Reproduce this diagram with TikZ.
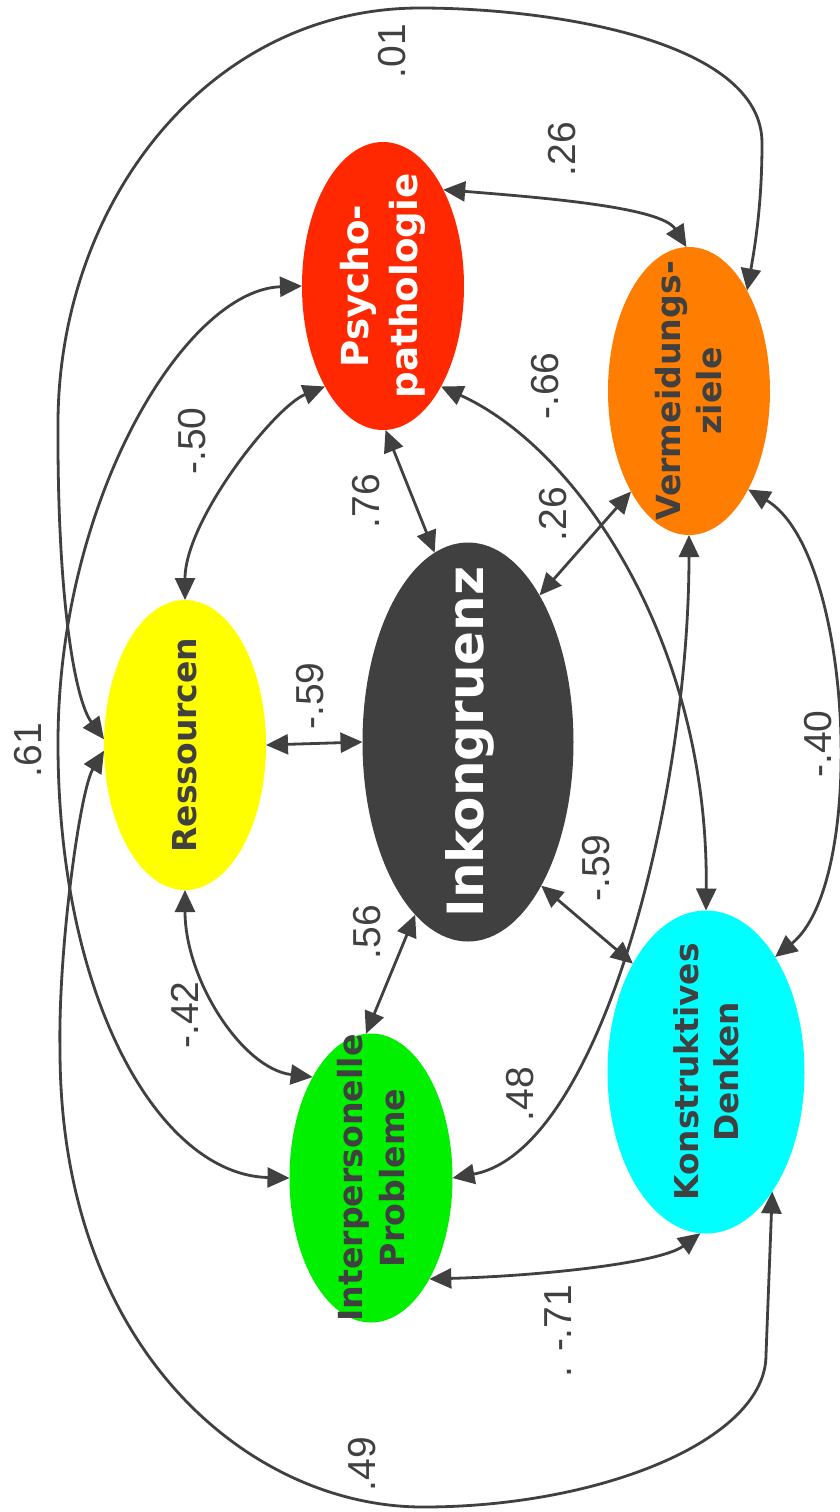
\documentclass[tikz,border=0pt]{standalone}
\usepackage{fontspec}
\setmainfont{Liberation Sans}
\newfontfamily\nodefont{DejaVu Sans}
\usetikzlibrary{arrows.meta,shapes.geometric}

\definecolor{linegray}{HTML}{404040}
\definecolor{psyred}{RGB}{255,40,0}
\definecolor{avoidorange}{RGB}{255,125,0}
\definecolor{resyellow}{RGB}{255,255,0}
\definecolor{intgreen}{RGB}{0,240,0}
\definecolor{konscyan}{RGB}{0,255,255}

\tikzset{
  blob/.style={ellipse, inner sep=0pt, outer sep=0pt, draw=none},
  conn/.style={draw=linegray, line width=1.4pt,
    {Triangle[length=11pt,width=10pt]}-{Triangle[length=11pt,width=10pt]}},
  wlabel/.style={rotate=90, text=linegray, inner sep=0pt,
    font=\fontsize{19.5}{22}\selectfont},
  ntext/.style={rotate=90, align=center, inner sep=0pt}
}

\begin{document}
\begin{tikzpicture}[x=0.5pt, y=-0.5pt]
  \fill[white] (0,0) rectangle (840,1512);
  \useasboundingbox (0,0) rectangle (840,1512);

  % construct ellipses
  \node[blob, fill=psyred, minimum width=81pt, minimum height=144pt] (P) at (383,286) {};
  \node[blob, fill=avoidorange, minimum width=81pt, minimum height=144pt] (V) at (689,391) {};
  \node[blob, fill=resyellow, minimum width=81pt, minimum height=145pt] (R) at (185,745) {};
  \node[blob, fill=linegray, minimum width=105.5pt, minimum height=199.5pt] (I) at (468,742) {};
  \node[blob, fill=intgreen, minimum width=81.5pt, minimum height=144.5pt] (G) at (371,1178) {};
  \node[blob, fill=konscyan, minimum width=98.5pt, minimum height=161.5pt] (K) at (706,1072) {};

  % correlations between neighbouring constructs
  \draw[conn] (P.58) .. controls +(100,8) and +(-25,-40) .. (V.91);
  \draw[conn] (P.240) .. controls +(-50,20) and +(0,-80) .. (R.90);
  \draw[conn] (P.271) -- (I.100);
  \draw[conn] (V.240) -- (I.64);
  \draw[conn] (R.0) -- (I.180);
  \draw[conn] (R.270) .. controls +(0,90) and +(-70,-8) .. (G.120);
  \draw[conn] (I.253) -- (G.92);
  \draw[conn] (I.297) -- (K.124);
  \draw[conn] (G.300) .. controls +(110,-3) and +(-40,30) .. (K.268);
  \draw[conn] (V.270) .. controls +(0,265) and +(147,-27) .. (G.0);
  \draw[conn] (P.300) .. controls +(137,62) and +(3,-268) .. (K.90);
  \draw[conn] (V.301) .. controls +(105,62) and +(93,-75) .. (K.59);

  % long correlations around the outside
  \draw[conn] (P.180) .. controls (185,290) and (58,500) .. (58,743)
              .. controls (58,1000) and (160,1175) .. (G.180);
  \draw[conn] (V.60) .. controls (758,230) and (762,190) .. (762,143)
              .. controls (762,40) and (550,8) .. (420,8)
              .. controls (210,8) and (60,200) .. (58,420)
              .. controls (57,600) and (75,700) .. (R.176);
  \draw[conn] (R.184) .. controls (80,790) and (58,950) .. (60,1050)
              .. controls (60,1350) and (250,1507) .. (423,1507)
              .. controls (600,1507) and (766,1440) .. (766,1355) -- (K.299);

  % construct names
  \node[ntext, text=white, font=\nodefont\bfseries\fontsize{18.6}{24.5}\selectfont] (tP) at (383,286) {Psycho-\\pathologie};
  \node[ntext, text=linegray, font=\nodefont\bfseries\fontsize{16.6}{20.5}\selectfont] (tV) at (689,391) {Vermeidungs-\\ziele};
  \node[ntext, text=linegray, font=\nodefont\bfseries\fontsize{16.5}{20}\selectfont] (tR) at (185,745) {Ressourcen};
  \node[ntext, text=white, font=\nodefont\bfseries\fontsize{25}{30}\selectfont] (tI) at (470,742) {Inkongruenz};
  \node[ntext, text=linegray, font=\nodefont\bfseries\fontsize{16.6}{21}\selectfont] (tG) at (371,1178) {Interpersonelle\\Probleme};
  \node[ntext, text=linegray, font=\nodefont\bfseries\fontsize{16.4}{20}\selectfont] (tK) at (706,1072) {Konstruktives\\Denken};

  % correlation coefficients
  \node[wlabel] (l01) at (392,51) {.01};
  \node[wlabel] (l26a) at (562,149) {.26};
  \node[wlabel] (l66) at (545,386) {-.66};
  \node[wlabel] (l50) at (192,441) {-.50};
  \node[wlabel] (l76) at (366,501) {.76};
  \node[wlabel] (l26b) at (553,514) {.26};
  \node[wlabel] (l59a) at (310,696) {-.59};
  \node[wlabel] (l61) at (28,750) {.61};
  \node[wlabel] (l40) at (818,744) {-.40};
  \node[wlabel] (l56) at (367,932) {.56};
  \node[wlabel] (l59b) at (596,868) {-.59};
  \node[wlabel] (l42) at (185,1015) {-.42};
  \node[wlabel] (l48) at (520,1094) {.48};
  \node[wlabel] (l71) at (558,1331) {. -.71};
  \node[wlabel] (l49) at (362,1464) {.49};
\end{tikzpicture}
\end{document}
